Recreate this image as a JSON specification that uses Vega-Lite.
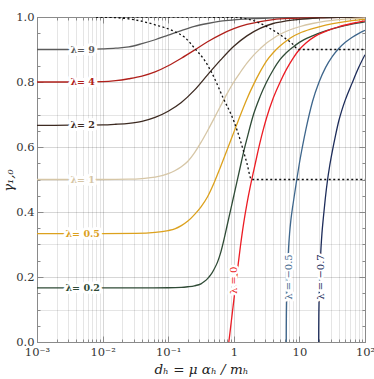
{
  "$schema": "https://vega.github.io/schema/vega-lite/v6.json",
  "width": 328,
  "height": 325,
  "autosize": {"type": "none"},
  "padding": {"left": 37, "top": 17, "right": 9, "bottom": 37},
  "background": "white",
  "config": {"view": {"stroke": null}, "font": "DejaVu Serif"},
  "datasets": {
    "curves": [
      {"lam":"9","d":0.001,"g":0.9},{"lam":"9","d":0.0031623,"g":0.9},{"lam":"9","d":0.01,"g":0.902},{"lam":"9","d":0.015849,"g":0.904},{"lam":"9","d":0.025119,"g":0.908},{"lam":"9","d":0.039811,"g":0.918},{"lam":"9","d":0.063096,"g":0.93},{"lam":"9","d":0.1,"g":0.944},{"lam":"9","d":0.15849,"g":0.958},{"lam":"9","d":0.25119,"g":0.971},{"lam":"9","d":0.39811,"g":0.98},{"lam":"9","d":0.63096,"g":0.987},{"lam":"9","d":1,"g":0.991},{"lam":"9","d":1.9953,"g":0.995},{"lam":"9","d":3.9811,"g":0.997},{"lam":"9","d":10,"g":0.999},{"lam":"9","d":31.623,"g":1.0},{"lam":"9","d":100,"g":1.0},
      {"lam":"4","d":0.001,"g":0.8},{"lam":"4","d":0.0031623,"g":0.8},{"lam":"4","d":0.01,"g":0.801},{"lam":"4","d":0.015849,"g":0.804},{"lam":"4","d":0.025119,"g":0.81},{"lam":"4","d":0.039811,"g":0.818},{"lam":"4","d":0.063096,"g":0.831},{"lam":"4","d":0.1,"g":0.85},{"lam":"4","d":0.15849,"g":0.873},{"lam":"4","d":0.25119,"g":0.898},{"lam":"4","d":0.39811,"g":0.924},{"lam":"4","d":0.63096,"g":0.946},{"lam":"4","d":1,"g":0.964},{"lam":"4","d":1.5849,"g":0.977},{"lam":"4","d":2.5119,"g":0.986},{"lam":"4","d":3.9811,"g":0.992},{"lam":"4","d":7.9433,"g":0.996},{"lam":"4","d":19.953,"g":0.998},{"lam":"4","d":100,"g":1.0},
      {"lam":"2","d":0.001,"g":0.6667},{"lam":"2","d":0.0031623,"g":0.667},{"lam":"2","d":0.01,"g":0.668},{"lam":"2","d":0.015849,"g":0.67},{"lam":"2","d":0.025119,"g":0.673},{"lam":"2","d":0.039811,"g":0.679},{"lam":"2","d":0.063096,"g":0.691},{"lam":"2","d":0.1,"g":0.71},{"lam":"2","d":0.15849,"g":0.737},{"lam":"2","d":0.25119,"g":0.775},{"lam":"2","d":0.39811,"g":0.822},{"lam":"2","d":0.63096,"g":0.868},{"lam":"2","d":1,"g":0.91},{"lam":"2","d":1.5849,"g":0.942},{"lam":"2","d":2.5119,"g":0.965},{"lam":"2","d":3.9811,"g":0.98},{"lam":"2","d":6.3096,"g":0.988},{"lam":"2","d":10,"g":0.993},{"lam":"2","d":19.953,"g":0.997},{"lam":"2","d":39.811,"g":0.999},{"lam":"2","d":100,"g":1.0},
      {"lam":"1","d":0.001,"g":0.5},{"lam":"1","d":0.01,"g":0.5},{"lam":"1","d":0.025119,"g":0.501},{"lam":"1","d":0.039811,"g":0.503},{"lam":"1","d":0.063096,"g":0.507},{"lam":"1","d":0.1,"g":0.518},{"lam":"1","d":0.12589,"g":0.527},{"lam":"1","d":0.15849,"g":0.539},{"lam":"1","d":0.19953,"g":0.556},{"lam":"1","d":0.25119,"g":0.582},{"lam":"1","d":0.31623,"g":0.614},{"lam":"1","d":0.39811,"g":0.65},{"lam":"1","d":0.50119,"g":0.688},{"lam":"1","d":0.63096,"g":0.727},{"lam":"1","d":0.79433,"g":0.765},{"lam":"1","d":1,"g":0.8},{"lam":"1","d":1.2589,"g":0.83},{"lam":"1","d":1.5849,"g":0.858},{"lam":"1","d":1.9953,"g":0.882},{"lam":"1","d":2.5119,"g":0.902},{"lam":"1","d":3.1623,"g":0.92},{"lam":"1","d":3.9811,"g":0.934},{"lam":"1","d":5.0119,"g":0.946},{"lam":"1","d":7.0795,"g":0.96},{"lam":"1","d":10,"g":0.97},{"lam":"1","d":15.849,"g":0.98},{"lam":"1","d":25.119,"g":0.987},{"lam":"1","d":39.811,"g":0.992},{"lam":"1","d":63.096,"g":0.995},{"lam":"1","d":100,"g":0.997},
      {"lam":"0.5","d":0.001,"g":0.3333},{"lam":"0.5","d":0.01,"g":0.3333},{"lam":"0.5","d":0.031623,"g":0.334},{"lam":"0.5","d":0.063096,"g":0.337},{"lam":"0.5","d":0.1,"g":0.343},{"lam":"0.5","d":0.12589,"g":0.348},{"lam":"0.5","d":0.15849,"g":0.358},{"lam":"0.5","d":0.19953,"g":0.372},{"lam":"0.5","d":0.25119,"g":0.392},{"lam":"0.5","d":0.31623,"g":0.416},{"lam":"0.5","d":0.39811,"g":0.447},{"lam":"0.5","d":0.50119,"g":0.49},{"lam":"0.5","d":0.63096,"g":0.54},{"lam":"0.5","d":0.79433,"g":0.592},{"lam":"0.5","d":1,"g":0.645},{"lam":"0.5","d":1.2589,"g":0.698},{"lam":"0.5","d":1.5849,"g":0.748},{"lam":"0.5","d":1.9953,"g":0.792},{"lam":"0.5","d":2.5119,"g":0.831},{"lam":"0.5","d":3.1623,"g":0.865},{"lam":"0.5","d":3.9811,"g":0.89},{"lam":"0.5","d":5.0119,"g":0.91},{"lam":"0.5","d":6.3096,"g":0.926},{"lam":"0.5","d":7.9433,"g":0.94},{"lam":"0.5","d":10,"g":0.95},{"lam":"0.5","d":15.849,"g":0.964},{"lam":"0.5","d":25.119,"g":0.975},{"lam":"0.5","d":39.811,"g":0.983},{"lam":"0.5","d":63.096,"g":0.989},{"lam":"0.5","d":100,"g":0.993},
      {"lam":"0.2","d":0.001,"g":0.1667},{"lam":"0.2","d":0.031623,"g":0.1667},{"lam":"0.2","d":0.1,"g":0.167},{"lam":"0.2","d":0.15849,"g":0.168},{"lam":"0.2","d":0.19953,"g":0.17},{"lam":"0.2","d":0.25119,"g":0.173},{"lam":"0.2","d":0.31623,"g":0.179},{"lam":"0.2","d":0.35481,"g":0.186},{"lam":"0.2","d":0.39811,"g":0.195},{"lam":"0.2","d":0.44668,"g":0.207},{"lam":"0.2","d":0.50119,"g":0.224},{"lam":"0.2","d":0.56234,"g":0.245},{"lam":"0.2","d":0.63096,"g":0.275},{"lam":"0.2","d":0.70795,"g":0.315},{"lam":"0.2","d":0.79433,"g":0.36},{"lam":"0.2","d":0.89125,"g":0.405},{"lam":"0.2","d":1,"g":0.45},{"lam":"0.2","d":1.122,"g":0.495},{"lam":"0.2","d":1.2589,"g":0.54},{"lam":"0.2","d":1.4125,"g":0.585},{"lam":"0.2","d":1.5849,"g":0.625},{"lam":"0.2","d":1.9953,"g":0.7},{"lam":"0.2","d":2.5119,"g":0.755},{"lam":"0.2","d":3.1623,"g":0.8},{"lam":"0.2","d":3.9811,"g":0.837},{"lam":"0.2","d":5.0119,"g":0.868},{"lam":"0.2","d":6.3096,"g":0.89},{"lam":"0.2","d":7.9433,"g":0.907},{"lam":"0.2","d":10,"g":0.922},{"lam":"0.2","d":15.849,"g":0.942},{"lam":"0.2","d":25.119,"g":0.957},{"lam":"0.2","d":39.811,"g":0.969},{"lam":"0.2","d":63.096,"g":0.978},{"lam":"0.2","d":100,"g":0.985},
      {"lam":"0","d":0.83946,"g":0},{"lam":"0","d":0.87096,"g":0.026},{"lam":"0","d":0.91201,"g":0.06},{"lam":"0","d":0.95499,"g":0.094},{"lam":"0","d":1,"g":0.128},{"lam":"0","d":1.0715,"g":0.178},{"lam":"0","d":1.1482,"g":0.228},{"lam":"0","d":1.2589,"g":0.293},{"lam":"0","d":1.4125,"g":0.365},{"lam":"0","d":1.5849,"g":0.425},{"lam":"0","d":1.7783,"g":0.477},{"lam":"0","d":1.9953,"g":0.524},{"lam":"0","d":2.2387,"g":0.57},{"lam":"0","d":2.5119,"g":0.614},{"lam":"0","d":2.8184,"g":0.654},{"lam":"0","d":3.1623,"g":0.69},{"lam":"0","d":3.9811,"g":0.75},{"lam":"0","d":5.0119,"g":0.797},{"lam":"0","d":6.3096,"g":0.838},{"lam":"0","d":7.9433,"g":0.872},{"lam":"0","d":10,"g":0.9},{"lam":"0","d":12.589,"g":0.92},{"lam":"0","d":17.783,"g":0.942},{"lam":"0","d":25.119,"g":0.956},{"lam":"0","d":39.811,"g":0.97},{"lam":"0","d":63.096,"g":0.98},{"lam":"0","d":100,"g":0.988},
      {"lam":"-0.5","d":6.3096,"g":0},{"lam":"-0.5","d":6.3169,"g":0.04},{"lam":"-0.5","d":6.3387,"g":0.08},{"lam":"-0.5","d":6.3827,"g":0.12},{"lam":"-0.5","d":6.4566,"g":0.165},{"lam":"-0.5","d":6.5313,"g":0.2},{"lam":"-0.5","d":6.6835,"g":0.25},{"lam":"-0.5","d":6.8391,"g":0.29},{"lam":"-0.5","d":7.0795,"g":0.333},{"lam":"-0.5","d":7.4131,"g":0.375},{"lam":"-0.5","d":7.9433,"g":0.42},{"lam":"-0.5","d":8.5114,"g":0.46},{"lam":"-0.5","d":9.1201,"g":0.5},{"lam":"-0.5","d":10,"g":0.55},{"lam":"-0.5","d":11.22,"g":0.605},{"lam":"-0.5","d":12.589,"g":0.655},{"lam":"-0.5","d":14.125,"g":0.7},{"lam":"-0.5","d":15.849,"g":0.74},{"lam":"-0.5","d":19.953,"g":0.8},{"lam":"-0.5","d":25.119,"g":0.845},{"lam":"-0.5","d":31.623,"g":0.878},{"lam":"-0.5","d":39.811,"g":0.903},{"lam":"-0.5","d":50.119,"g":0.922},{"lam":"-0.5","d":63.096,"g":0.937},{"lam":"-0.5","d":79.433,"g":0.949},{"lam":"-0.5","d":100,"g":0.959},
      {"lam":"-0.7","d":19.679,"g":0},{"lam":"-0.7","d":19.702,"g":0.04},{"lam":"-0.7","d":19.77,"g":0.08},{"lam":"-0.7","d":19.907,"g":0.12},{"lam":"-0.7","d":20.137,"g":0.165},{"lam":"-0.7","d":20.371,"g":0.2},{"lam":"-0.7","d":20.845,"g":0.25},{"lam":"-0.7","d":21.349,"g":0.29},{"lam":"-0.7","d":22.08,"g":0.335},{"lam":"-0.7","d":23.121,"g":0.38},{"lam":"-0.7","d":24.774,"g":0.44},{"lam":"-0.7","d":26.915,"g":0.5},{"lam":"-0.7","d":28.84,"g":0.54},{"lam":"-0.7","d":31.623,"g":0.585},{"lam":"-0.7","d":35.481,"g":0.635},{"lam":"-0.7","d":39.811,"g":0.68},{"lam":"-0.7","d":44.668,"g":0.715},{"lam":"-0.7","d":50.119,"g":0.745},{"lam":"-0.7","d":63.096,"g":0.795},{"lam":"-0.7","d":79.433,"g":0.843},{"lam":"-0.7","d":100,"g":0.884}
    ],
    "bounds": [
      {"id":"a","d":0.0079433,"g":1.0},{"id":"a","d":0.015849,"g":0.998},{"id":"a","d":0.031623,"g":0.991},{"id":"a","d":0.063096,"g":0.976},{"id":"a","d":0.12589,"g":0.955},{"id":"a","d":0.18197,"g":0.936},{"id":"a","d":0.25704,"g":0.902},{"id":"a","d":0.35481,"g":0.868},{"id":"a","d":0.45709,"g":0.83},{"id":"a","d":0.69183,"g":0.75},{"id":"a","d":1,"g":0.68},{"id":"a","d":1.2589,"g":0.62},{"id":"a","d":1.5849,"g":0.55},{"id":"a","d":1.8621,"g":0.5},{"id":"a","d":100,"g":0.5},
      {"id":"b","d":0.0079433,"g":1.0},{"id":"b","d":1,"g":0.999},{"id":"b","d":1.5849,"g":0.994},{"id":"b","d":1.9953,"g":0.989},{"id":"b","d":2.5119,"g":0.981},{"id":"b","d":3.3884,"g":0.967},{"id":"b","d":4.4668,"g":0.953},{"id":"b","d":6.0256,"g":0.935},{"id":"b","d":7.5858,"g":0.92},{"id":"b","d":9.7724,"g":0.9},{"id":"b","d":100,"g":0.9}
    ],
    "hlabels": [
      {"lam":"9","d":0.00497,"g":0.9,"text":"λ= 9"},
      {"lam":"4","d":0.00497,"g":0.8,"text":"λ= 4"},
      {"lam":"2","d":0.00497,"g":0.6667,"text":"λ= 2"},
      {"lam":"1","d":0.00497,"g":0.5,"text":"λ= 1"},
      {"lam":"0.5","d":0.00497,"g":0.3333,"text":"λ= 0.5"},
      {"lam":"0.2","d":0.00497,"g":0.1667,"text":"λ= 0.2"}
    ],
    "vlabels": [
      {"lam":"0","d":1.0233,"g":0.19,"text":"λ = 0"},
      {"lam":"-0.5","d":6.855,"g":0.2,"text":"λ = −0.5"},
      {"lam":"-0.7","d":21.628,"g":0.2,"text":"λ = −0.7"}
    ]
  },
  "resolve": {"axis": {"x": "independent", "y": "independent"}},
  "layer": [
    {
      "data": {"name": "curves"},
      "mark": {"type": "line", "strokeWidth": 1.3, "interpolate": "monotone", "clip": true},
      "encoding": {
        "x": {"field": "d", "type": "quantitative", "title": null,
          "scale": {"type": "log", "domain": [0.001, 100], "nice": false},
          "axis": {"orient": "bottom", "values": [0.001,0.002,0.003,0.004,0.005,0.006,0.007,0.008,0.009,0.01,0.02,0.03,0.04,0.05,0.06,0.07,0.08,0.09,0.1,0.2,0.3,0.4,0.5,0.6,0.7,0.8,0.9,1,2,3,4,5,6,7,8,9,10,20,30,40,50,60,70,80,90,100],
            "labels": false, "tickSize": -3, "tickColor": "#8a8a8a", "grid": true, "gridColor": "#000", "gridOpacity": 0.1, "domain": true, "domainColor": "#8a8a8a"}},
        "y": {"field": "g", "type": "quantitative", "title": null,
          "scale": {"domain": [0, 1], "nice": false, "zero": false},
          "axis": {"orient": "left", "values": [0,0.05,0.1,0.15,0.2,0.25,0.3,0.35,0.4,0.45,0.5,0.55,0.6,0.65,0.7,0.75,0.8,0.85,0.9,0.95,1],
            "labels": false, "tickSize": -3, "tickColor": "#8a8a8a", "grid": false, "domain": true, "domainColor": "#8a8a8a"}},
        "color": {"field": "lam", "type": "nominal", "legend": null,
          "scale": {"domain": ["9","4","2","1","0.5","0.2","0","-0.5","-0.7"],
            "range": ["#5b5b5b","#b0201b","#3d2b22","#d6c6a6","#dca11d","#2f4b36","#ec1c24","#3e668c","#1d2c5a"]}}
      }
    },
    {
      "data": {"name": "bounds"},
      "mark": {"type": "line", "strokeWidth": 1.3, "color": "#111", "strokeDash": [2, 2.5], "interpolate": "monotone", "clip": true},
      "encoding": {
        "x": {"field": "d", "type": "quantitative", "title": "dₕ = μ αₕ / mₕ",
          "scale": {"type": "log", "domain": [0.001, 100], "nice": false},
          "axis": {"orient": "bottom", "values": [0.001,0.01,0.1,1,10,100],
            "labelExpr": "datum.value < 0.005 ? '10⁻³' : datum.value < 0.05 ? '10⁻²' : datum.value < 0.5 ? '10⁻¹' : datum.value < 5 ? '1' : datum.value < 50 ? '10' : '10²'",
            "tickSize": -6, "tickColor": "#8a8a8a", "labelPadding": 10, "labelFlush": false, "labelOverlap": false,
            "labelFont": "DejaVu Serif", "labelFontSize": 11.5, "labelColor": "#333",
            "grid": true, "gridColor": "#000", "gridOpacity": 0.06, "domain": false,
            "titleFont": "DejaVu Serif", "titleFontSize": 13.5, "titleFontStyle": "italic", "titleFontWeight": "normal", "titleColor": "#222", "titlePadding": 5}},
        "y": {"field": "g", "type": "quantitative", "title": "γ₁,₀",
          "scale": {"domain": [0, 1], "nice": false, "zero": false},
          "axis": {"orient": "left", "values": [0,0.2,0.4,0.6,0.8,1], "format": ".1f",
            "tickSize": -6, "tickColor": "#8a8a8a", "labelPadding": 9,
            "labelFont": "DejaVu Serif", "labelFontSize": 11.5, "labelColor": "#333",
            "grid": true, "gridColor": "#000", "gridOpacity": 0.06, "domain": false,
            "titleFont": "DejaVu Serif", "titleFontSize": 13, "titleFontStyle": "italic", "titleFontWeight": "normal", "titleColor": "#222",
            "titleX": -22, "titleY": 163, "titleAngle": 270, "titleAlign": "center", "titleBaseline": "bottom"}},
        "detail": {"field": "id", "type": "nominal"}
      }
    },
    {
      "data": {"name": "hlabels"},
      "mark": {"type": "text", "font": "DejaVu Serif", "fontSize": 9.5, "fontWeight": "bold", "align": "center", "baseline": "middle", "fill": "white", "stroke": "white", "strokeWidth": 6, "strokeJoin": "round"},
      "encoding": {
        "x": {"field": "d", "type": "quantitative", "title": null,
          "scale": {"type": "log", "domain": [0.001, 100], "nice": false},
          "axis": {"orient": "top", "values": [0.001,0.002,0.003,0.004,0.005,0.006,0.007,0.008,0.009,0.01,0.02,0.03,0.04,0.05,0.06,0.07,0.08,0.09,0.1,0.2,0.3,0.4,0.5,0.6,0.7,0.8,0.9,1,2,3,4,5,6,7,8,9,10,20,30,40,50,60,70,80,90,100],
            "labels": false, "tickSize": -3, "tickColor": "#8a8a8a", "grid": false, "domain": true, "domainColor": "#8a8a8a"}},
        "y": {"field": "g", "type": "quantitative", "title": null,
          "scale": {"domain": [0, 1], "nice": false, "zero": false},
          "axis": {"orient": "right", "values": [0,0.05,0.1,0.15,0.2,0.25,0.3,0.35,0.4,0.45,0.5,0.55,0.6,0.65,0.7,0.75,0.8,0.85,0.9,0.95,1],
            "labels": false, "tickSize": -3, "tickColor": "#8a8a8a", "grid": false, "domain": true, "domainColor": "#8a8a8a"}},
        "text": {"field": "text"}
      }
    },
    {
      "data": {"name": "hlabels"},
      "mark": {"type": "text", "font": "DejaVu Serif", "fontSize": 9.5, "fontWeight": "bold", "align": "center", "baseline": "middle"},
      "encoding": {
        "x": {"field": "d", "type": "quantitative", "title": null,
          "scale": {"type": "log", "domain": [0.001, 100], "nice": false},
          "axis": {"orient": "top", "values": [0.001,0.01,0.1,1,10,100], "labels": false, "tickSize": -6, "tickColor": "#8a8a8a", "grid": false, "domain": false}},
        "y": {"field": "g", "type": "quantitative", "title": null,
          "scale": {"domain": [0, 1], "nice": false, "zero": false},
          "axis": {"orient": "right", "values": [0,0.2,0.4,0.6,0.8,1], "labels": false, "tickSize": -6, "tickColor": "#8a8a8a", "grid": false, "domain": false}},
        "text": {"field": "text"},
        "color": {"field": "lam", "type": "nominal", "legend": null}
      }
    },
    {
      "data": {"name": "vlabels"},
      "mark": {"type": "text", "font": "DejaVu Serif", "fontSize": 10, "angle": 270, "align": "center", "baseline": "middle", "fill": "white", "stroke": "white", "strokeWidth": 5, "strokeJoin": "round"},
      "encoding": {
        "x": {"field": "d", "type": "quantitative", "title": null,
          "scale": {"type": "log", "domain": [0.001, 100], "nice": false}, "axis": null},
        "y": {"field": "g", "type": "quantitative", "title": null,
          "scale": {"domain": [0, 1], "nice": false, "zero": false},
          "axis": {"orient": "left", "values": [0.1,0.2,0.3,0.4,0.5,0.6,0.7,0.8,0.9], "labels": false, "ticks": false, "domain": false,
            "grid": true, "gridColor": "#000", "gridOpacity": 0.1}},
        "text": {"field": "text"}
      }
    },
    {
      "data": {"name": "vlabels"},
      "mark": {"type": "text", "font": "DejaVu Serif", "fontSize": 10, "angle": 270, "align": "center", "baseline": "middle"},
      "encoding": {
        "x": {"field": "d", "type": "quantitative", "title": null,
          "scale": {"type": "log", "domain": [0.001, 100], "nice": false}, "axis": null},
        "y": {"field": "g", "type": "quantitative", "title": null,
          "scale": {"domain": [0, 1], "nice": false, "zero": false}, "axis": null},
        "text": {"field": "text"},
        "color": {"field": "lam", "type": "nominal", "legend": null}
      }
    }
  ]
}
